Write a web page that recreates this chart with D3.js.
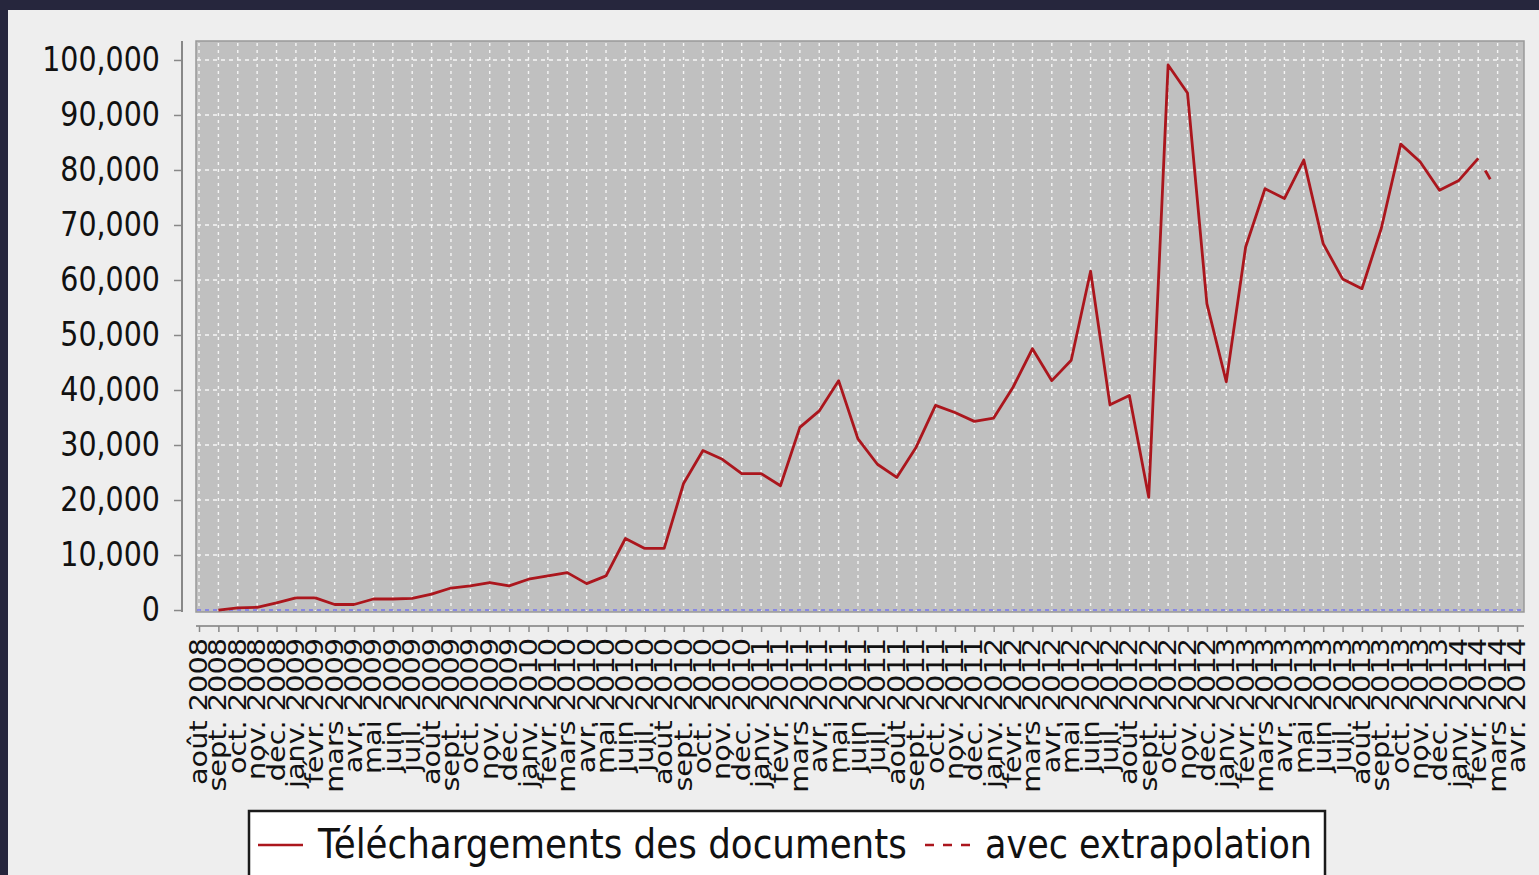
<!DOCTYPE html>
<html>
<head>
<meta charset="utf-8">
<script src="https://cdn.jsdelivr.net/npm/d3@7/dist/d3.min.js"></script>
<style>
  html, body { margin: 0; padding: 0; background: #26263d; overflow: hidden; }
  text { font-family: "DejaVu Sans", sans-serif; fill: #111; }
</style>
</head>
<body>
<div id="chart_downloads"></div>
<script>
// Monthly labels, août 2008 -> avr. 2014
var month_labels = [
  "août 2008", "sept. 2008", "oct. 2008", "nov. 2008", "déc. 2008",
  "janv. 2009", "févr. 2009", "mars 2009", "avr. 2009", "mai 2009", "juin 2009", "juil. 2009",
  "août 2009", "sept. 2009", "oct. 2009", "nov. 2009", "déc. 2009",
  "janv. 2010", "févr. 2010", "mars 2010", "avr. 2010", "mai 2010", "juin 2010", "juil. 2010",
  "août 2010", "sept. 2010", "oct. 2010", "nov. 2010", "déc. 2010",
  "janv. 2011", "févr. 2011", "mars 2011", "avr. 2011", "mai 2011", "juin 2011", "juil. 2011",
  "août 2011", "sept. 2011", "oct. 2011", "nov. 2011", "déc. 2011",
  "janv. 2012", "févr. 2012", "mars 2012", "avr. 2012", "mai 2012", "juin 2012", "juil. 2012",
  "août 2012", "sept. 2012", "oct. 2012", "nov. 2012", "déc. 2012",
  "janv. 2013", "févr. 2013", "mars 2013", "avr. 2013", "mai 2013", "juin 2013", "juil. 2013",
  "août 2013", "sept. 2013", "oct. 2013", "nov. 2013", "déc. 2013",
  "janv. 2014", "févr. 2014", "mars 2014", "avr. 2014"
];

// Téléchargements des documents (null = no value)
var downloads = [
  null, 0, 400, 500, 1300,
  2200, 2200, 1000, 1000, 2000, 2000, 2100,
  2900, 4000, 4400, 5000, 4400,
  5600, 6200, 6800, 4800, 6200, 13000, 11200,
  11200, 23000, 29000, 27400, 24800,
  24800, 22600, 33200, 36200, 41700, 31100, 26500,
  24100, 29600, 37200, 35900, 34300,
  34900, 40500, 47500, 41700, 45400, 61600, 37300,
  39000, 20500, 99100, 94000, 55700,
  41500, 66000, 76600, 74800, 81800, 66600, 60200,
  58400, 69400, 84700, 81500, 76300,
  78100, 82100, null, null
];

// avec extrapolation : only the last known month and the estimated one
var extrapolation_months = ["févr. 2014", "mars 2014"];
var extrapolation_values = [82100, 76000];

var y_ticks = [0, 10000, 20000, 30000, 40000, 50000, 60000, 70000, 80000, 90000, 100000];
var y_domain = [-360, 103450];

var width = 1539,
    height = 875,
    plot_left = 196,
    plot_right = 1524,
    plot_top = 41,
    plot_bottom = 612;

var svg_downloads = d3.select("#chart_downloads")
  .append("svg")
  .attr("width", width)
  .attr("height", height)

// light panel on the dark frame
svg_downloads.append("rect")
  .attr("x", 8).attr("y", 10)
  .attr("width", width - 8).attr("height", height - 10)
  .attr("fill", "#eeeeee")

var x_scale = d3.scalePoint()
  .domain(month_labels)
  .range([199, 1517]);

var y_scale = d3.scaleLinear()
  .domain(y_domain)
  .range([plot_bottom, plot_top]);

// plot background
svg_downloads.append("rect")
  .attr("x", plot_left).attr("y", plot_top)
  .attr("width", plot_right - plot_left).attr("height", plot_bottom - plot_top)
  .attr("fill", "#c0c0c0")
  .attr("stroke", "#999999")
  .attr("stroke-width", 1.5)

// vertical grid, one per month
svg_downloads.append("g")
  .selectAll("line")
  .data(month_labels)
  .enter()
  .append("line")
  .attr("x1", function(d) { return x_scale(d); })
  .attr("x2", function(d) { return x_scale(d); })
  .attr("y1", plot_top + 2)
  .attr("y2", plot_bottom - 1)
  .attr("stroke", "#f6f6f6")
  .attr("stroke-width", 1.4)
  .style("stroke-dasharray", ("3, 4"))

// horizontal grid
svg_downloads.append("g")
  .selectAll("line")
  .data(y_ticks.filter(function(d) { return d > 0; }))
  .enter()
  .append("line")
  .attr("x1", plot_left + 1)
  .attr("x2", plot_right - 1)
  .attr("y1", function(d) { return y_scale(d); })
  .attr("y2", function(d) { return y_scale(d); })
  .attr("stroke", "#f6f6f6")
  .attr("stroke-width", 1.4)
  .style("stroke-dasharray", ("4, 4"))

// zero marker
svg_downloads.append("line")
  .attr("x1", plot_left + 1)
  .attr("x2", plot_right - 1)
  .attr("y1", y_scale(0))
  .attr("y2", y_scale(0))
  .attr("stroke", "#7777ee")
  .attr("stroke-width", 1.3)
  .style("stroke-dasharray", ("4, 4"))

// y axis
var yAxis = svg_downloads.append("g")
  .attr("transform", "translate(182,0)")
  .call(d3.axisLeft(y_scale).tickValues(y_ticks).tickSize(8).tickPadding(14).tickFormat(d3.format(",")))

yAxis.select(".domain")
  .attr("d", "M0," + plot_top + "V" + plot_bottom)
  .attr("stroke", "#888888")
  .attr("stroke-width", 2)
yAxis.selectAll(".tick line").attr("stroke", "#888888").attr("stroke-width", 1.5)
yAxis.selectAll(".tick text")
  .style("font-size", "28.5px")
  .attr("fill", "#111")
  .attr("transform", "scale(1,1.2)")
  .attr("dy", "0.32em")

// x axis
var xAxis = svg_downloads.append("g")
  .attr("transform", "translate(0,626)")
  .call(d3.axisBottom(x_scale).tickSize(6).tickSizeOuter(0).tickFormat(""))

xAxis.select(".domain")
  .attr("d", "M" + plot_left + ",0H" + plot_right)
  .attr("stroke", "#999999")
  .attr("stroke-width", 2)
xAxis.selectAll(".tick line").attr("stroke", "#888888").attr("stroke-width", 1.5)

svg_downloads.append("g")
  .selectAll("text")
  .data(month_labels)
  .enter()
  .append("text")
  .attr("transform", function(d) { return "translate(" + (x_scale(d) + 8) + ",638) rotate(-90) scale(1.15,1)"; })
  .attr("text-anchor", "end")
  .style("font-size", "25px")
  .text(function(d) { return d; })

// series lines
var line = d3.line()
  .defined(function(d) { return d.value !== null; })
  .x(function(d) { return x_scale(d.month); })
  .y(function(d) { return y_scale(d.value); });

var downloads_data = month_labels.map(function(m, i) { return { month: m, value: downloads[i] }; });
var extrapolation_data = extrapolation_months.map(function(m, i) { return { month: m, value: extrapolation_values[i] }; });

svg_downloads.append("path")
  .datum(extrapolation_data)
  .attr("d", line)
  .attr("fill", "none")
  .attr("stroke", "#ab161d")
  .attr("stroke-width", 2.8)
  .style("stroke-dasharray", ("10, 40"))
  .style("stroke-dashoffset", 36)

svg_downloads.append("path")
  .datum(downloads_data)
  .attr("d", line)
  .attr("fill", "none")
  .attr("stroke", "#ab161d")
  .attr("stroke-width", 2.8)
  .attr("stroke-linejoin", "round")

// legend
var legend = svg_downloads.append("g")

legend.append("rect")
  .attr("x", 249).attr("y", 811)
  .attr("width", 1076).attr("height", 90)
  .attr("fill", "#ffffff")
  .attr("stroke", "#1a1a1a")
  .attr("stroke-width", 2.5)

legend.append("line")
  .attr("x1", 258).attr("x2", 303)
  .attr("y1", 845).attr("y2", 845)
  .attr("stroke", "#ab161d")
  .attr("stroke-width", 2.5)

legend.append("text")
  .attr("transform", "translate(318,858) scale(1.02,1.15)")
  .style("font-size", "35px")
  .text("Téléchargements des documents")

legend.append("line")
  .attr("x1", 925).attr("x2", 972)
  .attr("y1", 845).attr("y2", 845)
  .attr("stroke", "#ab161d")
  .attr("stroke-width", 2.5)
  .style("stroke-dasharray", ("9, 9"))

legend.append("text")
  .attr("transform", "translate(985,858) scale(1,1.15)")
  .style("font-size", "35px")
  .text("avec extrapolation")
</script>
</body>
</html>
